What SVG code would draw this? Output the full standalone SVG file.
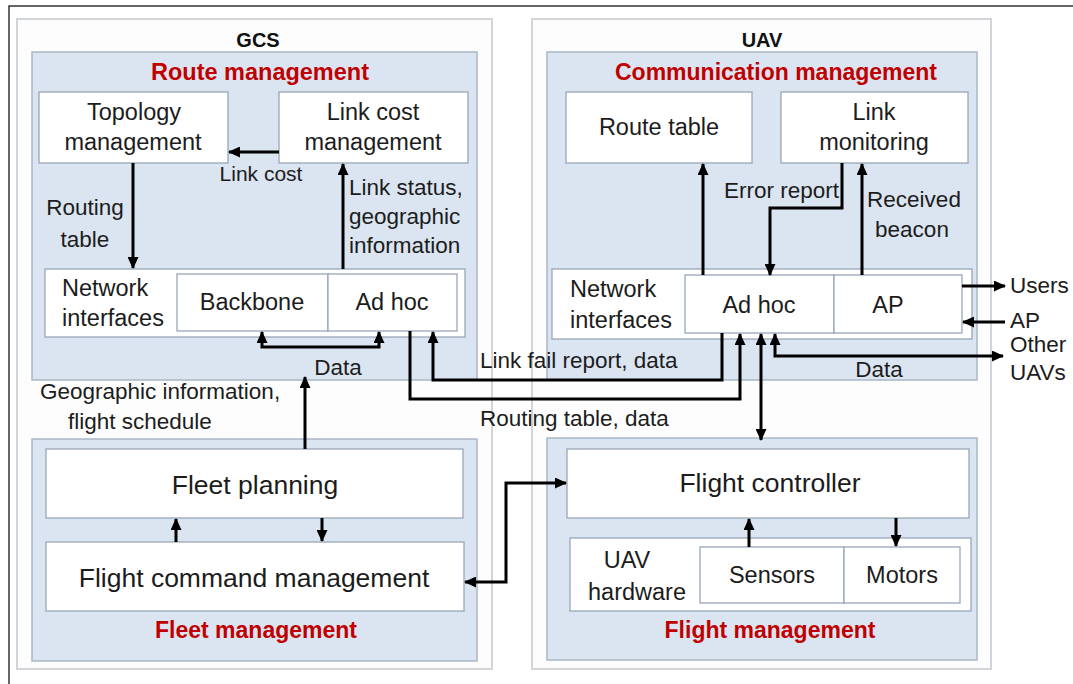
<svg xmlns="http://www.w3.org/2000/svg" width="1073" height="684" viewBox="0 0 1073 684">
  <defs>
    <style>
      .frame { fill: none; stroke: #333; stroke-width: 1.5; }
      .sys { fill: #fdfdfd; stroke: #c4c7cc; stroke-width: 1.5; }
      .panel { fill: #dbe5f1; stroke: #a9b6c7; stroke-width: 1.5; }
      .box { fill: #ffffff; stroke: #98a6b8; stroke-width: 1.3; }
      .wire { fill: none; stroke: #000; stroke-width: 3; }
      text { font-family: "Liberation Sans", Arial, sans-serif; fill: #1c1c1c; }
      .t { font-size: 23.5px; text-anchor: middle; }
      .tb { font-size: 26.5px; text-anchor: middle; }
      .lbl { font-size: 22.5px; }
      .lblc { font-size: 22.5px; text-anchor: middle; }
      .sys-title { font-size: 20px; font-weight: bold; text-anchor: middle; fill: #111; }
      .mod { font-size: 23px; font-weight: bold; text-anchor: middle; fill: #c00000; }
    </style>
    <marker id="ah" viewBox="0 0 12 11" markerWidth="12" markerHeight="11" refX="11" refY="5.5" orient="auto-start-reverse" markerUnits="userSpaceOnUse">
      <path d="M0,0 L12,5.5 L0,11 Z" fill="#000"/>
    </marker>
  </defs>

  <!-- page frame -->
  <path class="frame" d="M9,684 V6 H1073"/>

  <!-- ground control station -->
  <g id="gcs">
    <rect class="sys" x="17" y="19" width="475" height="650"/>
    <text class="sys-title" x="258" y="47">GCS</text>
  </g>
  <g id="route-management">
    <rect class="panel" x="32" y="52" width="445" height="328"/>
    <text class="mod" x="260" y="80" style="font-size:23.5px">Route management</text>
  </g>
  <g id="topology-management">
    <rect class="box" x="39" y="92" width="189" height="71"/>
    <text class="t" x="134" y="120">Topology</text>
    <text class="t" x="133" y="150">management</text>
  </g>
  <g id="link-cost-management">
    <rect class="box" x="279" y="92" width="189" height="71"/>
    <text class="t" x="373" y="120">Link cost</text>
    <text class="t" x="373" y="150">management</text>
  </g>
  <g id="gcs-network-interfaces">
    <rect class="box" x="45" y="269" width="420" height="68"/>
    <text class="t" x="62" y="296" style="text-anchor:start">Network</text>
    <text class="t" x="62" y="326" style="text-anchor:start">interfaces</text>
  </g>
  <g id="gcs-backbone">
    <rect class="box" x="177" y="274" width="151" height="57"/>
    <text class="t" x="252" y="310">Backbone</text>
  </g>
  <g id="gcs-adhoc">
    <rect class="box" x="328" y="274" width="129" height="57"/>
    <text class="t" x="392" y="310">Ad hoc</text>
  </g>
  <g id="fleet-management">
    <rect class="panel" x="32" y="439" width="445" height="222"/>
    <text class="mod" x="256" y="638">Fleet management</text>
  </g>
  <g id="fleet-planning">
    <rect class="box" x="46" y="449" width="417" height="69"/>
    <text class="tb" x="255" y="494">Fleet planning</text>
  </g>
  <g id="flight-command-management">
    <rect class="box" x="46" y="542" width="418" height="69"/>
    <text class="tb" x="254" y="587">Flight command management</text>
  </g>

  <!-- unmanned aerial vehicle -->
  <g id="uav">
    <rect class="sys" x="532" y="19" width="459" height="650"/>
    <text class="sys-title" x="762" y="47">UAV</text>
  </g>
  <g id="communication-management">
    <rect class="panel" x="547" y="52" width="430" height="328"/>
    <text class="mod" x="776" y="80">Communication management</text>
  </g>
  <g id="route-table">
    <rect class="box" x="566" y="92" width="186" height="71"/>
    <text class="t" x="659" y="135">Route table</text>
  </g>
  <g id="link-monitoring">
    <rect class="box" x="781" y="92" width="187" height="71"/>
    <text class="t" x="874" y="120">Link</text>
    <text class="t" x="874" y="150">monitoring</text>
  </g>
  <g id="uav-network-interfaces">
    <rect class="box" x="552" y="269" width="420" height="70"/>
    <text class="t" x="570" y="297" style="text-anchor:start">Network</text>
    <text class="t" x="570" y="328" style="text-anchor:start">interfaces</text>
  </g>
  <g id="uav-adhoc">
    <rect class="box" x="685" y="275" width="149" height="58"/>
    <text class="t" x="759" y="313">Ad hoc</text>
  </g>
  <g id="uav-ap">
    <rect class="box" x="834" y="275" width="128" height="58"/>
    <text class="t" x="888" y="313">AP</text>
  </g>
  <g id="flight-management">
    <rect class="panel" x="547" y="438" width="430" height="222"/>
    <text class="mod" x="770" y="638">Flight management</text>
  </g>
  <g id="flight-controller">
    <rect class="box" x="567" y="449" width="402" height="69"/>
    <text class="tb" x="770" y="492">Flight controller</text>
  </g>
  <g id="uav-hardware">
    <rect class="box" x="570" y="538" width="401" height="73"/>
    <text class="t" x="627" y="568">UAV</text>
    <text class="t" x="637" y="600">hardware</text>
  </g>
  <g id="sensors">
    <rect class="box" x="700" y="547" width="144" height="56"/>
    <text class="t" x="772" y="583">Sensors</text>
  </g>
  <g id="motors">
    <rect class="box" x="844" y="547" width="116" height="56"/>
    <text class="t" x="902" y="583">Motors</text>
  </g>

  <!-- connectors -->
  <g id="connectors">
    <path class="wire" d="M279,152 H229" marker-end="url(#ah)"/>
    <path class="wire" d="M133,163 V268" marker-end="url(#ah)"/>
    <path class="wire" d="M343,269 V164" marker-end="url(#ah)"/>
    <path class="wire" d="M262,332 V347 H379 V332" marker-start="url(#ah)" marker-end="url(#ah)"/>
    <path class="wire" d="M410,331 V399 H740 V334" marker-end="url(#ah)"/>
    <path class="wire" d="M722,333 V380 H433 V332" marker-end="url(#ah)"/>
    <path class="wire" d="M775,334 V356 H1003" marker-start="url(#ah)" marker-end="url(#ah)"/>
    <path class="wire" d="M761,334 V440" marker-start="url(#ah)" marker-end="url(#ah)"/>
    <path class="wire" d="M703,275 V164" marker-end="url(#ah)"/>
    <path class="wire" d="M842,163 V208 H770 V275" marker-end="url(#ah)"/>
    <path class="wire" d="M862,275 V164" marker-end="url(#ah)"/>
    <path class="wire" d="M962,286 H1005" marker-end="url(#ah)"/>
    <path class="wire" d="M1005,322 H963" marker-end="url(#ah)"/>
    <path class="wire" d="M305,449 V377" marker-end="url(#ah)"/>
    <path class="wire" d="M176,542 V519" marker-end="url(#ah)"/>
    <path class="wire" d="M322,518 V541" marker-end="url(#ah)"/>
    <path class="wire" d="M749,547 V519" marker-end="url(#ah)"/>
    <path class="wire" d="M896,518 V546" marker-end="url(#ah)"/>
    <path class="wire" d="M465,582 H506 V483 H566" marker-start="url(#ah)" marker-end="url(#ah)"/>

    <!-- connector labels -->
    <text class="lblc" x="261" y="181" style="font-size:21px">Link cost</text>
    <text class="lblc" x="85" y="215">Routing</text>
    <text class="lblc" x="85" y="247">table</text>
    <text class="lbl" x="349" y="195">Link status,</text>
    <text class="lbl" x="349" y="224">geographic</text>
    <text class="lbl" x="349" y="253">information</text>
    <text class="lblc" x="338" y="375">Data</text>
    <text class="lbl" x="40" y="399">Geographic information,</text>
    <text class="lbl" x="68" y="429">flight schedule</text>
    <text class="lbl" x="480" y="368">Link fail report, data</text>
    <text class="lbl" x="480" y="426">Routing table, data</text>
    <text class="lbl" x="724" y="198">Error report</text>
    <text class="lblc" x="914" y="207">Received</text>
    <text class="lblc" x="912" y="237">beacon</text>
    <text class="lblc" x="879" y="377">Data</text>
    <text class="lbl" x="1010" y="293">Users</text>
    <text class="lbl" x="1010" y="328">AP</text>
    <text class="lbl" x="1010" y="352">Other</text>
    <text class="lbl" x="1010" y="380">UAVs</text>
  </g>
</svg>
